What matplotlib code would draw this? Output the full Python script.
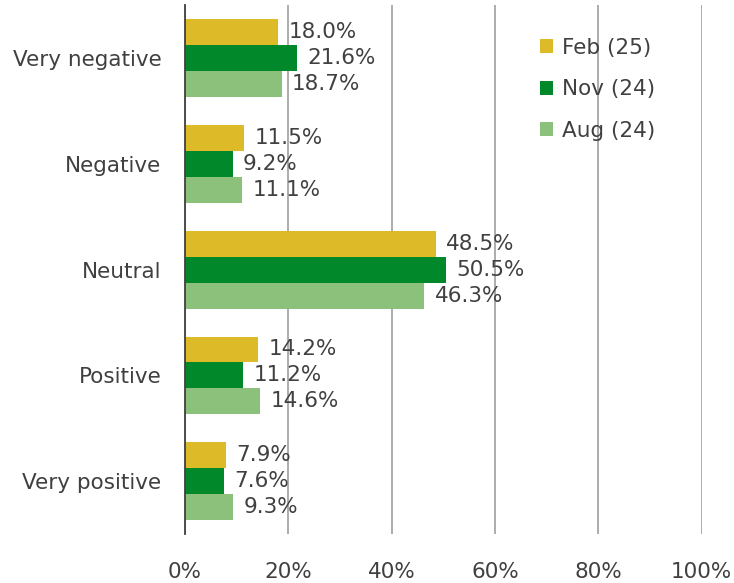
import matplotlib
matplotlib.use("Agg")
import matplotlib.pyplot as plt
import numpy as np
from matplotlib.ticker import FuncFormatter

categories = ["Very negative", "Negative", "Neutral", "Positive", "Very positive"]
series_names = ["Feb (25)", "Nov (24)", "Aug (24)"]
feb25 = [18.0, 11.5, 48.5, 14.2, 7.9]
nov24 = [21.6, 9.2, 50.5, 11.2, 7.6]
aug24 = [18.7, 11.1, 46.3, 14.6, 9.3]
colors = ["#DDBA28", "#00882B", "#8BC17A"]
xticks = [0, 20, 40, 60, 80, 100]

fig = plt.figure(figsize=(7.34, 5.83), dpi=100)
ax = fig.add_axes([0.252, 0.084, 0.704, 0.907])

fs = 15.5
text_color = "#404040"
y = np.arange(len(categories))
h = 0.245
offsets = [-h, 0, h]
for vals, off, col, name in zip([feb25, nov24, aug24], offsets, colors, series_names):
    ax.barh(y + off, vals, height=h, color=col, label=name, zorder=3)
    for yy, v in zip(y + off, vals):
        ax.annotate(f"{v:.1f}%", xy=(v, yy), xytext=(7.5, 0), textcoords="offset points",
                    va="center", ha="left", fontsize=fs, color=text_color, zorder=4)

ax.set_ylim(len(categories) - 0.5, -0.5)
ax.set_xlim(0, 100)
ax.set_xticks(xticks)
ax.xaxis.set_major_formatter(FuncFormatter(lambda v, p: f"{v:.0f}%"))
ax.set_yticks(y)
ax.set_yticklabels(categories)
ax.tick_params(axis="both", length=0, labelsize=fs, labelcolor=text_color)
ax.tick_params(axis="x", pad=20)
ax.tick_params(axis="y", pad=17)
ax.grid(axis="x", color="#A6A6A6", linewidth=1.3, zorder=0)
for s in ["top", "right", "bottom"]:
    ax.spines[s].set_visible(False)
ax.spines["left"].set_color("#404040")
ax.spines["left"].set_linewidth(1.3)
ax.spines["left"].set_zorder(5)

leg = ax.legend(loc="upper left", bbox_to_anchor=(0.65, 0.975), frameon=False,
                fontsize=fs, handlelength=0.6, handleheight=0.6, handletextpad=0.4,
                labelspacing=1.0, labelcolor=text_color)

fig.savefig("out.png", dpi=100)
